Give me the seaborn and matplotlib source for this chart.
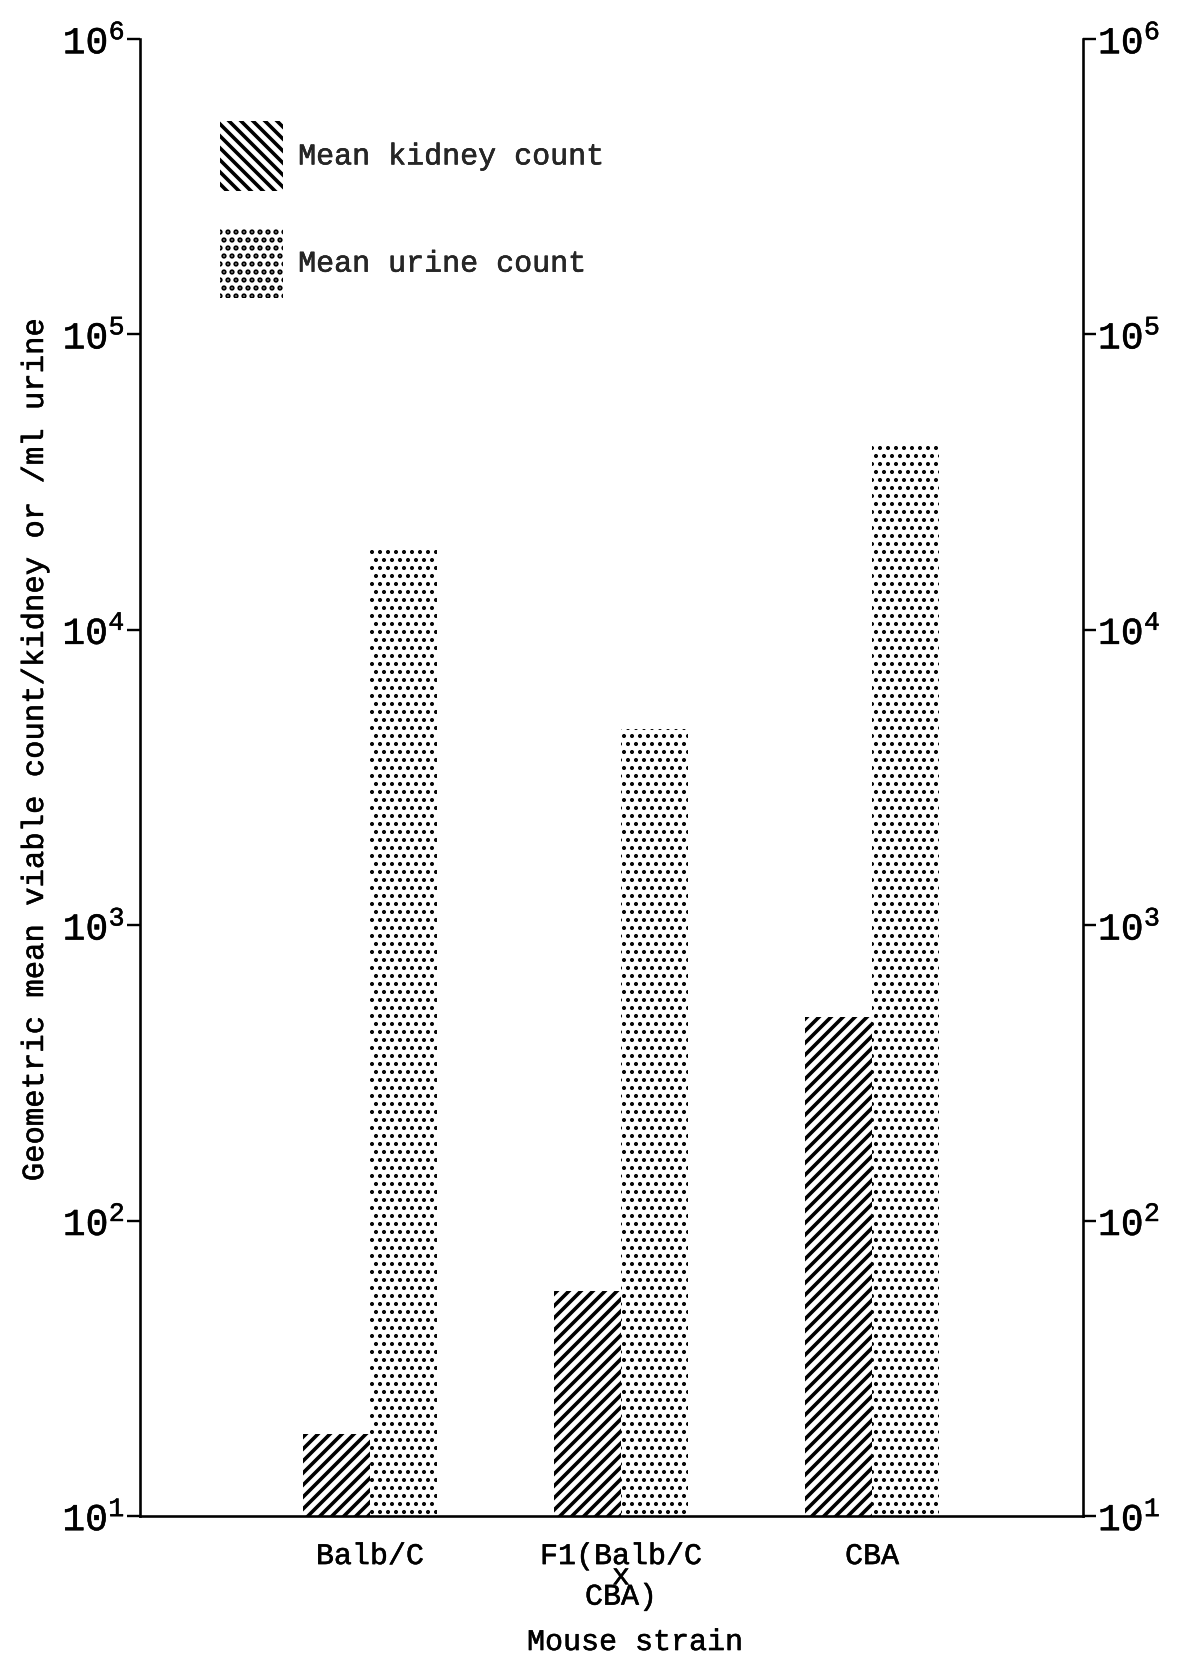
import matplotlib
matplotlib.use("Agg")
import matplotlib.pyplot as plt
import matplotlib.patheffects as pe
from matplotlib.patches import Patch
from matplotlib.ticker import FixedLocator, FixedFormatter, NullLocator
import pandas as pd
import seaborn as sns

# Geometric mean viable counts per mouse strain
strains = ["Balb/C", "F1(Balb/C\nx\nCBA)", "CBA"]
kidney_counts = [19, 58, 490]          # per kidney
urine_counts = [18600, 4600, 42000]    # per ml urine
series_names = ["Mean kidney count", "Mean urine count"]
decades = [1e1, 1e2, 1e3, 1e4, 1e5, 1e6]
decade_labels = [r"$\mathdefault{10^{%d}}$" % k for k in range(1, 7)]

df = pd.DataFrame({
    "strain": strains * 2,
    "count": kidney_counts + urine_counts,
    "measure": [series_names[0]] * len(strains) + [series_names[1]] * len(strains),
})

sns.set_theme(style="white")
plt.rcParams["font.family"] = ["Liberation Mono", "DejaVu Sans Mono"]
plt.rcParams["mathtext.fontset"] = "custom"
plt.rcParams["mathtext.rm"] = "Liberation Mono"
plt.rcParams["mathtext.it"] = "Liberation Mono"
plt.rcParams["hatch.linewidth"] = 1.8

DPI = 144
fig = plt.figure(figsize=(1181 / DPI, 1656 / DPI), dpi=DPI)
fig.patch.set_facecolor("white")
ax = fig.add_axes([0.1185, 0.0845, 0.7985, 0.892])
ax.set_facecolor("white")

sns.barplot(
    data=df, x="strain", y="count", hue="measure",
    order=strains, hue_order=series_names,
    palette=["white", "white"], saturation=1,
    width=0.534, errorbar=None, legend=False, ax=ax,
)
ax.set_yscale("log")

# Hatched kidney bars, stippled urine bars
hatches = ["////", "..."]
hatch_widths = [1.8, 1.2]
for container, h, hw in zip(ax.containers, hatches, hatch_widths):
    for bar in container:
        bar.set_facecolor("white")
        bar.set_edgecolor("black")
        bar.set_linewidth(0)
        bar.set_hatch(h)
        if hasattr(bar, "set_hatch_linewidth"):
            bar.set_hatch_linewidth(hw)

ax.set_ylim(10, 1e6)
ax.set_xlim(-0.916, 2.84)
ax.yaxis.set_major_locator(FixedLocator(decades))
ax.yaxis.set_major_formatter(FixedFormatter(decade_labels))
ax.yaxis.set_minor_locator(NullLocator())
ax.tick_params(axis="y", which="major", left=True, right=True,
               labelleft=True, labelright=True, direction="out",
               length=6.5, width=1.2, labelsize=19, pad=1, colors="black")
ax.tick_params(axis="x", length=0, labelsize=15, pad=13, colors="black")
for lbl in ax.get_xticklabels():
    lbl.set_linespacing(0.65)
    lbl.set_multialignment("center")

for side in ["left", "right", "bottom"]:
    ax.spines[side].set_visible(True)
    ax.spines[side].set_color("black")
    ax.spines[side].set_linewidth(1.3)
ax.spines["top"].set_visible(False)

ax.set_xlabel("Mouse strain", fontsize=15, color="black")
ax.xaxis.set_label_coords(0.525, -0.0758)
ax.set_ylabel("Geometric mean viable count/kidney or /ml urine",
              fontsize=15.3, color="black")
ax.yaxis.set_label_coords(-0.0954, 0.519)

legend_handles = [
    Patch(facecolor="white", edgecolor="black", linewidth=0, hatch="\\\\\\\\"),
    Patch(facecolor="white", edgecolor="black", linewidth=0, hatch="..."),
]
leg = ax.legend(legend_handles, series_names, loc="upper left",
                bbox_to_anchor=(0.085, 0.9445), frameon=False, fontsize=15,
                handlelength=2.1, handleheight=3.2, handletextpad=0.5,
                labelspacing=1.25, borderpad=0, borderaxespad=0)

# Typewriter-weight lettering
ink = [pe.withStroke(linewidth=0.25, foreground="black")]
texts = (ax.get_xticklabels() + ax.get_yticklabels()
         + [t.label2 for t in ax.yaxis.get_major_ticks()]
         + [ax.xaxis.label, ax.yaxis.label] + leg.get_texts())
for t in texts:
    t.set_path_effects(ink)

fig.savefig("out.png", dpi=DPI, facecolor="white")
